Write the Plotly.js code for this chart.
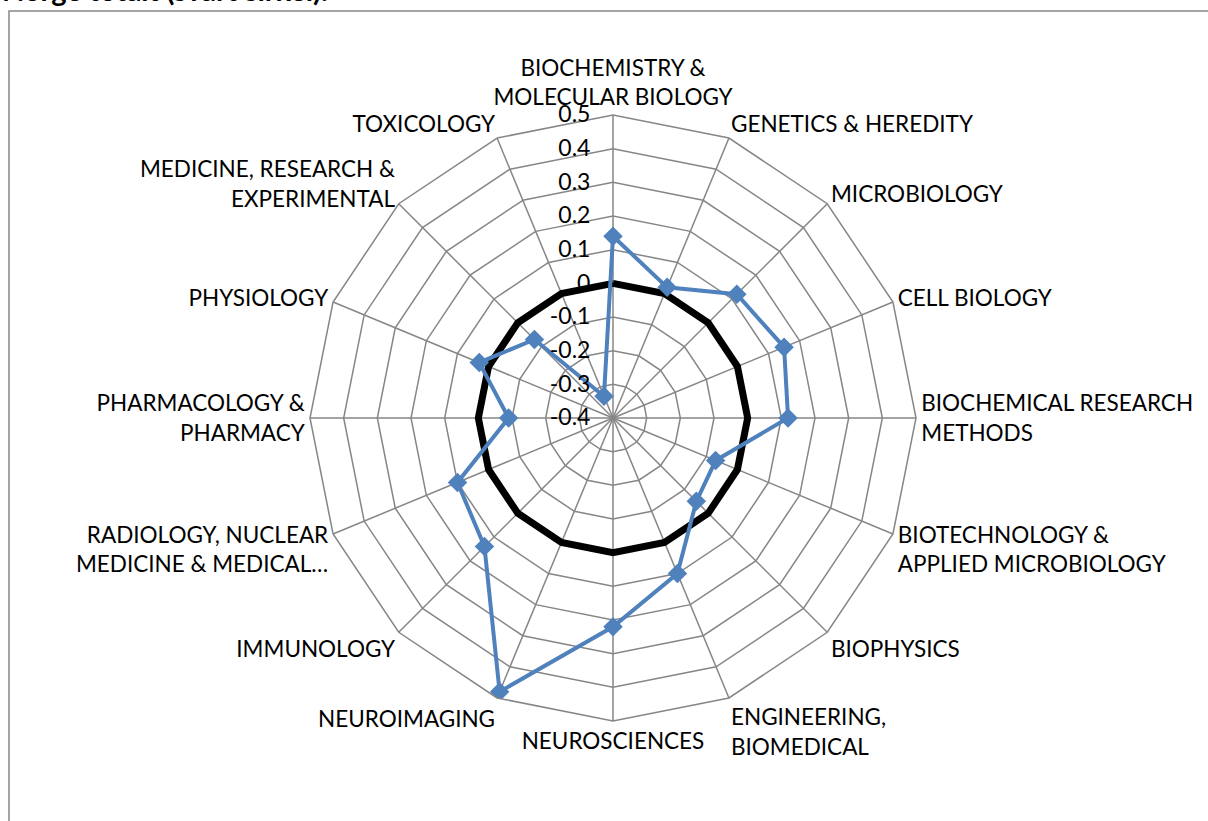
<!DOCTYPE html>
<html>
<head>
<meta charset="utf-8">
<script src="https://cdn.plot.ly/plotly-3.0.1.min.js"></script>
<style>html,body{margin:0;padding:0;background:#fff;}#chart{width:1208px;height:821px;}</style>
</head>
<body>
<div id="chart"></div>
<script>
const categories = [
  "BIOCHEMISTRY & MOLECULAR BIOLOGY",
  "GENETICS & HEREDITY",
  "MICROBIOLOGY",
  "CELL BIOLOGY",
  "BIOCHEMICAL RESEARCH METHODS",
  "BIOTECHNOLOGY & APPLIED MICROBIOLOGY",
  "BIOPHYSICS",
  "ENGINEERING, BIOMEDICAL",
  "NEUROSCIENCES",
  "NEUROIMAGING",
  "IMMUNOLOGY",
  "RADIOLOGY, NUCLEAR MEDICINE & MEDICAL…",
  "PHARMACOLOGY & PHARMACY",
  "PHYSIOLOGY",
  "MEDICINE, RESEARCH & EXPERIMENTAL",
  "TOXICOLOGY"
];
const tickLabels = [
  "BIOCHEMISTRY &<br>MOLECULAR BIOLOGY",
  "GENETICS & HEREDITY",
  "MICROBIOLOGY",
  "CELL BIOLOGY",
  "BIOCHEMICAL RESEARCH<br>METHODS",
  "BIOTECHNOLOGY &<br>APPLIED MICROBIOLOGY",
  "BIOPHYSICS",
  "ENGINEERING,<br>BIOMEDICAL",
  "NEUROSCIENCES",
  "NEUROIMAGING",
  "IMMUNOLOGY",
  "RADIOLOGY, NUCLEAR<br>MEDICINE & MEDICAL…",
  "PHARMACOLOGY &<br>PHARMACY",
  "PHYSIOLOGY",
  "MEDICINE, RESEARCH &<br>EXPERIMENTAL",
  "TOXICOLOGY"
];
const seriesValues = [0.14, 0.02, 0.12, 0.15, 0.12, -0.07, -0.05, 0.10, 0.22, 0.48, 0.14, 0.10, -0.09, 0.03, -0.07, -0.33];
const norgeTotal = [0,0,0,0,0,0,0,0,0,0,0,0,0,0,0,0];
const radialTicks = [-0.4,-0.3,-0.2,-0.1,0,0.1,0.2,0.3,0.4,0.5];
const titleText = "Norge totalt (svart sirkel).";

const close = a => a.concat([a[0]]);
const font = "Lato, 'Open Sans', sans-serif";
const grid = "#868686";

const traces = [
  {type:"scatterpolar", mode:"lines", r:close(norgeTotal), theta:close(categories),
   line:{color:"#000000", width:7}, hoverinfo:"skip", showlegend:false, cliponaxis:true},
  {type:"scatterpolar", mode:"lines", r:close(seriesValues), theta:close(categories),
   line:{color:"#4F81BD", width:4}, showlegend:false, cliponaxis:true},
  {type:"scatterpolar", mode:"markers", r:seriesValues, theta:categories,
   marker:{symbol:"diamond", size:15, color:"#4F81BD"}, cliponaxis:true, showlegend:false}
];

const W=1208, H=821, cx=613, cy=418, R=303;
const layout = {
  width:W, height:H, margin:{l:0,r:0,t:0,b:0},
  paper_bgcolor:"#fff", plot_bgcolor:"#fff", showlegend:false,
  font:{family:font, color:"#000"},
  polar:{
    domain:{x:[(cx-R)/W,(cx+R)/W], y:[1-(cy+R)/H, 1-(cy-R)/H]},
    gridshape:"linear", bgcolor:"#fff",
    radialaxis:{range:[-0.4,0.5], tickmode:"array", tickvals:radialTicks, ticktext:radialTicks.map(String),
      angle:90, tickangle:90, side:"counterclockwise", showline:false, ticks:"outside", ticklen:14, tickcolor:"rgba(0,0,0,0)",
      gridcolor:grid, gridwidth:1.5,
      tickfont:{size:23, family:font, color:"#000"}},
    angularaxis:{type:"category", categoryorder:"array", categoryarray:categories, rotation:90, direction:"clockwise",
      tickmode:"array", tickvals:categories, ticktext:tickLabels, ticks:"",
      gridcolor:grid, gridwidth:1.5, linecolor:grid, linewidth:1.5, showline:true,
      tickfont:{size:22.5, family:font, color:"#000"}}
  },
  shapes:[{type:"rect", xref:"paper", yref:"paper", x0:9/W, x1:1.02, y0:-0.02, y1:1-11/H, line:{color:grid, width:1.5}}],
  annotations:[{text:"<b>"+titleText+"</b>", xref:"paper", yref:"paper", x:0, y:1+10/H, xanchor:"left", yanchor:"middle",
    showarrow:false, font:{size:29, family:font, color:"#000"}}]
};
Plotly.newPlot("chart", traces, layout, {displayModeBar:false, staticPlot:true});
</script>
</body>
</html>
